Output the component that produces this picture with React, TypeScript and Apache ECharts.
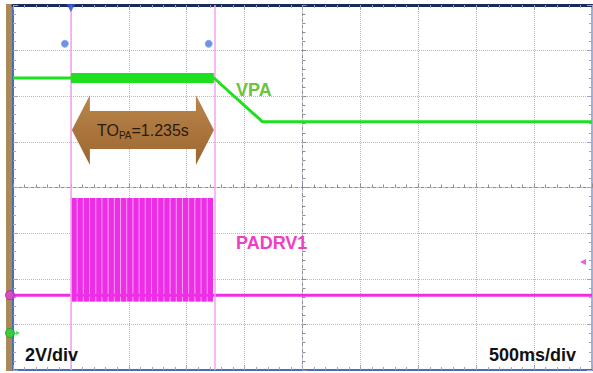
import React, { useEffect, useRef } from "react";
import * as echarts from "echarts";

// Scope screen: 10 horizontal divisions of 500 ms, 8 vertical divisions of 2 V
const timeMin = 0;
const timeMax = 5;
const timeStep = 0.5;
const voltMin = -8;
const voltMax = 8;
const voltStep = 2;

// VPA trace (screen volts)
const vpaTimes = [0, 0.5, 1.735, 2.155, 5];
const vpaValues = [4.8, 4.8, 4.8, 2.88, 2.88];
const vpaRippleTimes = [0.5, 1.735];
const vpaRippleValues = [4.8, 4.8];

// PADRV1 trace
const padrvTimes = [0, 0.5, 1.735, 5];
const padrvValues = [-4.72, -4.72, -4.72, -4.72];
const burstPulseTimes = [
  0.505, 0.558, 0.612, 0.665, 0.719, 0.772, 0.826, 0.879, 0.933, 0.986, 1.04, 1.093,
  1.147, 1.2, 1.254, 1.307, 1.361, 1.414, 1.468, 1.521, 1.575, 1.628, 1.682,
];
const burstPulseWidth = 0.045;
const burstHigh = -0.46;
const burstLow = -5.0;

// Cursors and markers
const cursorTimes = [0.5, 1.735];
const cursorMarkerTimes = [0.448, 1.69];
const cursorMarkerLevel = 6.3;
const arrowLevel = 2.52;
const toPaValue = "1.235s";
const padrvGround = -4.72;
const vpaGround = -6.38;
const triggerLevel = -3.27;
const triggerTime = 0.5;

const GREEN = "#1fe01f";
const MAGENTA = "#ee2ee6";
const GRID_DOT = "#b3b8cf";

export default function App() {
  const ref = useRef<HTMLDivElement>(null);

  useEffect(() => {
    document.body.style.margin = "0";
    if (!ref.current) return;
    const chart = echarts.init(ref.current, undefined, { renderer: "svg" });

    const tickStyle = { color: "#9aa6c4", width: 1 };

    chart.setOption({
      animation: false,
      backgroundColor: "#ffffff",
      grid: { left: 13, top: 5, width: 579, height: 365 },
      xAxis: [
        {
          type: "value",
          min: timeMin,
          max: timeMax,
          interval: timeStep,
          position: "bottom",
          axisLabel: { show: false },
          axisLine: { show: true, onZero: false, lineStyle: { color: "#4b6cb7", width: 2 } },
          axisTick: { show: true, inside: true, length: 5, lineStyle: tickStyle },
          minorTick: { show: true, splitNumber: 5, length: 3, lineStyle: tickStyle },
          splitLine: { show: true, lineStyle: { color: GRID_DOT, type: "dotted", width: 1 } },
        },
        {
          type: "value",
          min: timeMin,
          max: timeMax,
          interval: timeStep,
          position: "top",
          axisLabel: { show: false },
          axisLine: { show: true, onZero: false, lineStyle: { color: "#1b2a5c", width: 3 } },
          axisTick: { show: true, inside: true, length: 5, lineStyle: tickStyle },
          minorTick: { show: true, splitNumber: 5, length: 3, lineStyle: tickStyle },
          splitLine: { show: false },
        },
        {
          type: "value",
          min: timeMin,
          max: timeMax,
          interval: timeStep,
          position: "bottom",
          axisLabel: { show: false },
          axisLine: { show: true, onZero: true, onZeroAxisIndex: 0, lineStyle: { color: "#8c8c98", width: 1, type: [3, 3] } },
          axisTick: { show: true, inside: true, length: 4, lineStyle: { color: "#8c8c98" } },
          minorTick: { show: true, splitNumber: 5, length: 3, lineStyle: { color: "#8c8c98" } },
          splitLine: { show: false },
        },
      ],
      yAxis: [
        {
          type: "value",
          min: voltMin,
          max: voltMax,
          interval: voltStep,
          position: "left",
          axisLabel: { show: false },
          axisLine: { show: true, onZero: false, lineStyle: { color: "#4b6cb7", width: 2 } },
          axisTick: { show: true, inside: true, length: 5, lineStyle: tickStyle },
          minorTick: { show: true, splitNumber: 5, length: 3, lineStyle: tickStyle },
          splitLine: { show: true, lineStyle: { color: GRID_DOT, type: "dotted", width: 1 } },
        },
        {
          type: "value",
          min: voltMin,
          max: voltMax,
          interval: voltStep,
          position: "right",
          axisLabel: { show: false },
          axisLine: { show: true, onZero: false, lineStyle: { color: "#9fb2dc", width: 2 } },
          axisTick: { show: true, inside: true, length: 5, lineStyle: tickStyle },
          minorTick: { show: true, splitNumber: 5, length: 3, lineStyle: tickStyle },
          splitLine: { show: false },
        },
        {
          type: "value",
          min: voltMin,
          max: voltMax,
          interval: voltStep,
          position: "left",
          offset: -289.5,
          axisLabel: { show: false },
          axisLine: { show: true, onZero: false, lineStyle: { color: "#8c8c98", width: 1, type: [3, 3] } },
          axisTick: { show: true, inside: true, length: 4, lineStyle: { color: "#8c8c98" } },
          minorTick: { show: true, splitNumber: 5, length: 3, lineStyle: { color: "#8c8c98" } },
          splitLine: { show: false },
        },
      ],
      graphic: [
        { type: "rect", left: 6, top: 4, shape: { width: 7, height: 367 }, style: { fill: "#a98a57" }, z: 0 },
        {
          type: "text",
          left: 236,
          top: 81,
          style: { text: "VPA", fill: "#6cc43c", font: "bold 18px 'Liberation Sans', Arial, sans-serif" },
          z: 20,
        },
        {
          type: "text",
          left: 236,
          top: 234,
          style: { text: "PADRV1", fill: "#ee3fc4", font: "bold 18px 'Liberation Sans', Arial, sans-serif" },
          z: 20,
        },
        {
          type: "text",
          left: 25,
          top: 346,
          style: { text: "2V/div", fill: "#111111", font: "bold 18px 'Liberation Sans', Arial, sans-serif" },
          z: 20,
        },
        {
          type: "text",
          left: 489,
          top: 346,
          style: { text: "500ms/div", fill: "#111111", font: "bold 18px 'Liberation Sans', Arial, sans-serif" },
          z: 20,
        },
      ],
      series: [
        {
          name: "cursors",
          type: "line",
          data: [],
          markLine: {
            symbol: "none",
            silent: true,
            label: { show: false },
            lineStyle: { color: "#f2a4ee", width: 1.5, type: "solid" },
            data: cursorTimes.map((t) => ({ xAxis: t })),
          },
          z: 1,
        },
        {
          name: "PADRV1",
          type: "line",
          data: padrvTimes.map((t, i) => [t, padrvValues[i]]),
          symbol: "none",
          lineStyle: { color: MAGENTA, width: 3 },
          markArea: {
            silent: true,
            itemStyle: { color: "#f6a2f0" },
            data: [[{ xAxis: cursorTimes[0], yAxis: burstHigh }, { xAxis: cursorTimes[1] - 0.008, yAxis: burstLow }]],
          },
          z: 3,
        },
        {
          name: "PADRV1 burst",
          type: "custom",
          coordinateSystem: "cartesian2d",
          data: burstPulseTimes.map((t) => [t, burstHigh]),
          renderItem: (_params: any, api: any) => {
            const t = api.value(0);
            const p0 = api.coord([t, burstLow]);
            const p1 = api.coord([t + burstPulseWidth, burstHigh]);
            return {
              type: "rect",
              shape: { x: p0[0], y: p1[1], width: p1[0] - p0[0], height: p0[1] - p1[1] },
              style: { fill: MAGENTA },
            };
          },
          z: 4,
        },
        {
          name: "VPA",
          type: "line",
          data: vpaTimes.map((t, i) => [t, vpaValues[i]]),
          symbol: "none",
          lineStyle: { color: GREEN, width: 3 },
          z: 5,
        },
        {
          name: "VPA ripple",
          type: "line",
          data: vpaRippleTimes.map((t, i) => [t, vpaRippleValues[i]]),
          symbol: "none",
          lineStyle: { color: GREEN, width: 10 },
          z: 5,
        },
        {
          name: "TOPA arrow",
          type: "custom",
          coordinateSystem: "cartesian2d",
          data: [[cursorTimes[0], cursorTimes[1], arrowLevel]],
          renderItem: (_params: any, api: any) => {
            const a = api.coord([api.value(0), api.value(2)]);
            const b = api.coord([api.value(1), api.value(2)]);
            const lx = a[0] + 1;
            const rx = b[0];
            const y = a[1];
            const hl = 18;
            const hh = 35;
            const bh = 19;
            const points = [
              [lx, y],
              [lx + hl, y - hh],
              [lx + hl, y - bh],
              [rx - hl, y - bh],
              [rx - hl, y - hh],
              [rx, y],
              [rx - hl, y + hh],
              [rx - hl, y + bh],
              [lx + hl, y + bh],
              [lx + hl, y + hh],
            ];
            return {
              type: "group",
              children: [
                {
                  type: "polygon",
                  shape: { points },
                  style: {
                    fill: new echarts.graphic.LinearGradient(0, 0, 0, 1, [
                      { offset: 0, color: "#b9864b" },
                      { offset: 1, color: "#9c6630" },
                    ]),
                  },
                },
                {
                  type: "text",
                  x: (lx + rx) / 2,
                  y: y,
                  style: {
                    text: "{a|TO}{b|PA}{a|=" + toPaValue + "}",
                    align: "center",
                    verticalAlign: "middle",
                    rich: {
                      a: { fontSize: 16, fontFamily: "'Liberation Sans', Arial, sans-serif", fill: "#2a1a0c", lineHeight: 20 },
                      b: {
                        fontSize: 10,
                        fontFamily: "'Liberation Sans', Arial, sans-serif",
                        fill: "#2a1a0c",
                        lineHeight: 12,
                        verticalAlign: "bottom",
                      },
                    },
                  },
                },
              ],
            };
          },
          z: 6,
        },
        {
          name: "cursor markers",
          type: "scatter",
          data: cursorMarkerTimes.map((t) => [t, cursorMarkerLevel]),
          symbol: "circle",
          symbolSize: 7,
          itemStyle: { color: "#4a78d8", borderColor: "#7fa0ea", borderWidth: 1 },
          clip: false,
          z: 7,
        },
        {
          name: "trigger position",
          type: "scatter",
          data: [[triggerTime, voltMax]],
          symbol: "triangle",
          symbolRotate: 180,
          symbolSize: [9, 8],
          symbolOffset: [0, 3],
          itemStyle: { color: "#2d55c8" },
          clip: false,
          z: 7,
        },
        {
          name: "PADRV1 ground",
          type: "scatter",
          data: [[timeMin, padrvGround]],
          symbol: "circle",
          symbolSize: 9,
          symbolOffset: [-3, 0],
          itemStyle: { color: "#e040d8", borderColor: "#b020b0", borderWidth: 1 },
          clip: false,
          z: 8,
        },
        {
          name: "VPA ground",
          type: "scatter",
          data: [[timeMin, vpaGround]],
          symbol: "circle",
          symbolSize: 9,
          symbolOffset: [-3, 0],
          itemStyle: { color: "#22dd33", borderColor: "#11aa22", borderWidth: 1 },
          clip: false,
          z: 8,
        },
        {
          name: "VPA ground arrow",
          type: "scatter",
          data: [[timeMin, vpaGround]],
          symbol: "triangle",
          symbolRotate: -90,
          symbolSize: [4, 4],
          symbolOffset: [5, 0],
          itemStyle: { color: "#22dd33" },
          clip: false,
          z: 8,
        },
        {
          name: "trigger level",
          type: "scatter",
          data: [[timeMax, triggerLevel]],
          symbol: "triangle",
          symbolRotate: 90,
          symbolSize: [6, 6],
          symbolOffset: [-9, 0],
          itemStyle: { color: MAGENTA },
          clip: false,
          z: 8,
        },
      ],
    });

    return () => chart.dispose();
  }, []);

  return <div ref={ref} style={{ width: 593, height: 373 }} />;
}
